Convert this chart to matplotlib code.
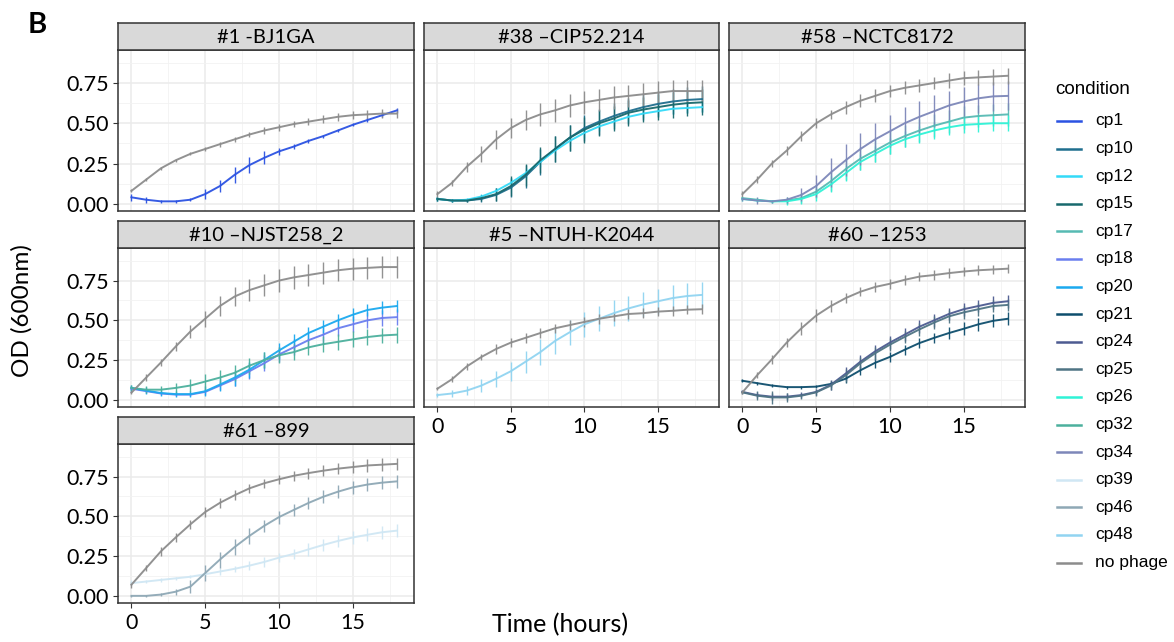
import matplotlib
matplotlib.use("Agg")
import matplotlib.pyplot as plt
from matplotlib.lines import Line2D

# time axis (hours)
hours = list(range(19))

# legend levels and colours
conditions = ["cp1", "cp10", "cp12", "cp15", "cp17", "cp18", "cp20", "cp21", "cp24",
              "cp25", "cp26", "cp32", "cp34", "cp39", "cp46", "cp48", "no phage"]
colors = ["#2B52E2", "#1F6E8E", "#33DAF8", "#18696D", "#56BAB3", "#6A7EEF", "#1BA9EF",
          "#0E4E6D", "#4D5B91", "#4F7484", "#2FF3D6", "#4CB09D", "#7D87B9", "#D0E7F4",
          "#8EA8B5", "#91D4F1", "#8C8C8C"]

# panel #1 -BJ1GA
bj1ga_nophage = [0.08, 0.15, 0.22, 0.27, 0.31, 0.34, 0.37, 0.40, 0.43, 0.455, 0.475, 0.495, 0.51, 0.525, 0.54, 0.55, 0.555, 0.56, 0.56]
bj1ga_nophage_err = [0.01, 0.01, 0.01, 0.01, 0.01, 0.01, 0.015, 0.015, 0.015, 0.02, 0.02, 0.02, 0.02, 0.025, 0.025, 0.025, 0.03, 0.03, 0.03]
bj1ga_cp1 = [0.04, 0.025, 0.015, 0.015, 0.025, 0.06, 0.11, 0.18, 0.24, 0.285, 0.325, 0.355, 0.39, 0.42, 0.455, 0.49, 0.52, 0.55, 0.58]
bj1ga_cp1_err = [0.02, 0.02, 0.01, 0.01, 0.01, 0.03, 0.04, 0.05, 0.05, 0.04, 0.02, 0.015, 0.01, 0.01, 0.01, 0.01, 0.01, 0.01, 0.015]

# panel #38 -CIP52.214
cip_nophage = [0.06, 0.13, 0.23, 0.31, 0.40, 0.47, 0.52, 0.555, 0.58, 0.61, 0.63, 0.645, 0.66, 0.67, 0.68, 0.69, 0.70, 0.70, 0.70]
cip_nophage_err = [0.02, 0.02, 0.03, 0.05, 0.06, 0.06, 0.06, 0.07, 0.07, 0.07, 0.07, 0.07, 0.07, 0.07, 0.07, 0.07, 0.07, 0.07, 0.07]
cip_cp10 = [0.03, 0.02, 0.02, 0.03, 0.055, 0.10, 0.17, 0.26, 0.34, 0.41, 0.47, 0.51, 0.545, 0.575, 0.60, 0.62, 0.635, 0.645, 0.65]
cip_cp10_err = [0.01, 0.01, 0.01, 0.02, 0.04, 0.06, 0.07, 0.08, 0.08, 0.08, 0.08, 0.08, 0.08, 0.08, 0.08, 0.08, 0.08, 0.08, 0.08]
cip_cp12 = [0.03, 0.02, 0.025, 0.045, 0.08, 0.13, 0.19, 0.26, 0.33, 0.39, 0.44, 0.48, 0.51, 0.54, 0.56, 0.575, 0.59, 0.595, 0.60]
cip_cp12_err = [0.01, 0.01, 0.01, 0.015, 0.02, 0.03, 0.03, 0.03, 0.03, 0.03, 0.03, 0.03, 0.03, 0.03, 0.03, 0.03, 0.03, 0.03, 0.03]
cip_cp15 = [0.03, 0.02, 0.02, 0.035, 0.06, 0.11, 0.18, 0.27, 0.34, 0.41, 0.46, 0.50, 0.53, 0.565, 0.585, 0.60, 0.615, 0.625, 0.63]
cip_cp15_err = [0.01, 0.01, 0.01, 0.02, 0.04, 0.06, 0.07, 0.08, 0.08, 0.08, 0.08, 0.08, 0.08, 0.08, 0.08, 0.08, 0.08, 0.08, 0.08]

# panel #58 -NCTC8172
nctc_nophage = [0.06, 0.15, 0.25, 0.33, 0.42, 0.50, 0.555, 0.60, 0.64, 0.67, 0.70, 0.72, 0.735, 0.75, 0.765, 0.78, 0.785, 0.79, 0.795]
nctc_nophage_err = [0.02, 0.02, 0.02, 0.03, 0.03, 0.03, 0.03, 0.04, 0.04, 0.04, 0.04, 0.04, 0.04, 0.04, 0.045, 0.045, 0.045, 0.05, 0.05]
nctc_cp17 = [0.035, 0.025, 0.015, 0.02, 0.035, 0.075, 0.14, 0.215, 0.28, 0.33, 0.38, 0.42, 0.455, 0.485, 0.51, 0.535, 0.545, 0.55, 0.555]
nctc_cp17_err = [0.01, 0.01, 0.01, 0.02, 0.03, 0.04, 0.06, 0.07, 0.07, 0.07, 0.07, 0.07, 0.07, 0.07, 0.07, 0.07, 0.07, 0.07, 0.07]
nctc_cp26 = [0.03, 0.02, 0.015, 0.015, 0.03, 0.06, 0.12, 0.19, 0.26, 0.31, 0.36, 0.40, 0.43, 0.455, 0.475, 0.49, 0.495, 0.50, 0.50]
nctc_cp26_err = [0.01, 0.01, 0.01, 0.02, 0.03, 0.04, 0.05, 0.05, 0.05, 0.05, 0.05, 0.05, 0.05, 0.05, 0.05, 0.05, 0.05, 0.05, 0.05]
nctc_cp34 = [0.03, 0.02, 0.015, 0.025, 0.055, 0.11, 0.195, 0.27, 0.34, 0.40, 0.45, 0.50, 0.54, 0.575, 0.61, 0.635, 0.655, 0.667, 0.67]
nctc_cp34_err = [0.01, 0.02, 0.01, 0.02, 0.04, 0.07, 0.09, 0.10, 0.10, 0.10, 0.10, 0.10, 0.10, 0.10, 0.09, 0.09, 0.09, 0.09, 0.09]

# panel #10 -NJST258_2
njst_nophage = [0.045, 0.14, 0.235, 0.335, 0.43, 0.51, 0.59, 0.65, 0.69, 0.72, 0.75, 0.77, 0.785, 0.80, 0.815, 0.825, 0.83, 0.835, 0.835]
njst_nophage_err = [0.01, 0.02, 0.02, 0.03, 0.04, 0.05, 0.06, 0.06, 0.07, 0.07, 0.07, 0.07, 0.07, 0.07, 0.07, 0.07, 0.07, 0.07, 0.07]
njst_cp18 = [0.07, 0.055, 0.04, 0.033, 0.033, 0.05, 0.09, 0.13, 0.18, 0.23, 0.285, 0.33, 0.375, 0.41, 0.45, 0.475, 0.50, 0.515, 0.52]
njst_cp18_err = [0.02, 0.01, 0.01, 0.01, 0.01, 0.02, 0.03, 0.04, 0.05, 0.05, 0.05, 0.05, 0.05, 0.05, 0.05, 0.05, 0.05, 0.05, 0.05]
njst_cp20 = [0.075, 0.058, 0.043, 0.036, 0.036, 0.054, 0.096, 0.14, 0.19, 0.25, 0.31, 0.365, 0.42, 0.46, 0.50, 0.535, 0.565, 0.58, 0.59]
njst_cp20_err = [0.02, 0.02, 0.02, 0.02, 0.02, 0.03, 0.04, 0.05, 0.05, 0.05, 0.05, 0.05, 0.04, 0.04, 0.04, 0.04, 0.04, 0.04, 0.04]
njst_cp32 = [0.075, 0.064, 0.064, 0.075, 0.09, 0.115, 0.14, 0.17, 0.215, 0.25, 0.28, 0.30, 0.33, 0.35, 0.365, 0.38, 0.395, 0.405, 0.41]
njst_cp32_err = [0.02, 0.02, 0.02, 0.03, 0.04, 0.05, 0.05, 0.05, 0.05, 0.05, 0.05, 0.05, 0.05, 0.05, 0.05, 0.05, 0.05, 0.05, 0.05]

# panel #5 -NTUH-K2044
ntuh_nophage = [0.07, 0.13, 0.21, 0.27, 0.32, 0.36, 0.39, 0.42, 0.45, 0.47, 0.49, 0.51, 0.525, 0.54, 0.545, 0.555, 0.56, 0.567, 0.57]
ntuh_nophage_err = [0.01, 0.02, 0.02, 0.02, 0.03, 0.03, 0.03, 0.03, 0.03, 0.03, 0.03, 0.03, 0.03, 0.03, 0.03, 0.03, 0.03, 0.03, 0.03]
ntuh_cp48 = [0.03, 0.04, 0.058, 0.09, 0.133, 0.18, 0.24, 0.30, 0.37, 0.425, 0.475, 0.51, 0.545, 0.575, 0.60, 0.62, 0.64, 0.653, 0.66]
ntuh_cp48_err = [0.01, 0.02, 0.03, 0.04, 0.05, 0.06, 0.07, 0.08, 0.08, 0.08, 0.08, 0.08, 0.08, 0.08, 0.08, 0.08, 0.08, 0.08, 0.08]

# panel #60 -1253
s1253_nophage = [0.047, 0.155, 0.255, 0.36, 0.45, 0.53, 0.59, 0.64, 0.68, 0.71, 0.73, 0.755, 0.775, 0.785, 0.797, 0.807, 0.815, 0.82, 0.825]
s1253_nophage_err = [0.01, 0.02, 0.03, 0.03, 0.04, 0.04, 0.04, 0.03, 0.03, 0.03, 0.03, 0.03, 0.03, 0.03, 0.03, 0.03, 0.03, 0.03, 0.03]
s1253_cp21 = [0.12, 0.105, 0.09, 0.08, 0.08, 0.083, 0.10, 0.133, 0.186, 0.233, 0.27, 0.315, 0.357, 0.39, 0.42, 0.447, 0.475, 0.497, 0.51]
s1253_cp21_err = [0.01, 0.01, 0.01, 0.01, 0.01, 0.01, 0.02, 0.03, 0.03, 0.03, 0.03, 0.03, 0.03, 0.03, 0.04, 0.04, 0.04, 0.04, 0.04]
s1253_cp24 = [0.05, 0.03, 0.02, 0.02, 0.03, 0.05, 0.095, 0.165, 0.24, 0.305, 0.36, 0.41, 0.46, 0.50, 0.54, 0.57, 0.59, 0.61, 0.62]
s1253_cp24_err = [0.01, 0.02, 0.02, 0.02, 0.02, 0.02, 0.03, 0.04, 0.04, 0.04, 0.04, 0.04, 0.04, 0.04, 0.04, 0.04, 0.04, 0.04, 0.04]
s1253_cp25 = [0.047, 0.026, 0.015, 0.015, 0.026, 0.047, 0.09, 0.154, 0.23, 0.293, 0.347, 0.396, 0.443, 0.486, 0.525, 0.55, 0.57, 0.59, 0.597]
s1253_cp25_err = [0.01, 0.03, 0.04, 0.03, 0.02, 0.02, 0.03, 0.04, 0.04, 0.04, 0.04, 0.04, 0.04, 0.04, 0.04, 0.04, 0.04, 0.04, 0.04]

# panel #61 -899
s899_nophage = [0.07, 0.175, 0.28, 0.367, 0.45, 0.527, 0.585, 0.633, 0.676, 0.708, 0.733, 0.755, 0.772, 0.787, 0.80, 0.81, 0.82, 0.825, 0.83]
s899_nophage_err = [0.02, 0.02, 0.03, 0.03, 0.03, 0.03, 0.03, 0.03, 0.03, 0.03, 0.03, 0.03, 0.035, 0.035, 0.035, 0.04, 0.04, 0.04, 0.04]
s899_cp39 = [0.08, 0.09, 0.10, 0.11, 0.12, 0.136, 0.153, 0.17, 0.19, 0.213, 0.24, 0.264, 0.292, 0.32, 0.345, 0.367, 0.384, 0.40, 0.41]
s899_cp39_err = [0.02, 0.01, 0.01, 0.01, 0.01, 0.01, 0.02, 0.02, 0.03, 0.03, 0.03, 0.03, 0.04, 0.04, 0.04, 0.04, 0.04, 0.04, 0.04]
s899_cp46 = [0.0, 0.0, 0.008, 0.026, 0.058, 0.143, 0.228, 0.307, 0.377, 0.44, 0.495, 0.54, 0.584, 0.623, 0.655, 0.682, 0.70, 0.712, 0.72]
s899_cp46_err = [0.005, 0.005, 0.01, 0.02, 0.04, 0.05, 0.05, 0.05, 0.05, 0.04, 0.04, 0.04, 0.04, 0.04, 0.04, 0.04, 0.04, 0.04, 0.04]

panel_titles = ["#1 -BJ1GA", "#38 \u2013CIP52.214", "#58 \u2013NCTC8172",
                "#10 \u2013NJST258_2", "#5 \u2013NTUH-K2044", "#60 \u20131253", "#61 \u2013899"]
panel_series = [
    [("cp1", bj1ga_cp1, bj1ga_cp1_err), ("no phage", bj1ga_nophage, bj1ga_nophage_err)],
    [("cp10", cip_cp10, cip_cp10_err), ("cp12", cip_cp12, cip_cp12_err), ("cp15", cip_cp15, cip_cp15_err),
     ("no phage", cip_nophage, cip_nophage_err)],
    [("cp17", nctc_cp17, nctc_cp17_err), ("cp26", nctc_cp26, nctc_cp26_err), ("cp34", nctc_cp34, nctc_cp34_err),
     ("no phage", nctc_nophage, nctc_nophage_err)],
    [("cp18", njst_cp18, njst_cp18_err), ("cp20", njst_cp20, njst_cp20_err), ("cp32", njst_cp32, njst_cp32_err),
     ("no phage", njst_nophage, njst_nophage_err)],
    [("cp48", ntuh_cp48, ntuh_cp48_err), ("no phage", ntuh_nophage, ntuh_nophage_err)],
    [("cp21", s1253_cp21, s1253_cp21_err), ("cp24", s1253_cp24, s1253_cp24_err), ("cp25", s1253_cp25, s1253_cp25_err),
     ("no phage", s1253_nophage, s1253_nophage_err)],
    [("cp39", s899_cp39, s899_cp39_err), ("cp46", s899_cp46, s899_cp46_err), ("no phage", s899_nophage, s899_nophage_err)],
]

W, H = 1174, 642
col_px = [(118, 414), (424, 719), (729, 1025)]
row_px = [(50, 211), (248, 407), (444, 603)]
strip_px = 27
font = "Lato"
dark = "#333333"


def rect(x0, y0, x1, y1):
    return [x0 / W, 1 - y1 / H, (x1 - x0) / W, (y1 - y0) / H]


color_of = dict(zip(conditions, colors))
fig = plt.figure(figsize=(W / 100, H / 100), dpi=100)

for i, (title, series) in enumerate(zip(panel_titles, panel_series)):
    r, c = divmod(i, 3)
    x0, x1 = col_px[c]
    y0, y1 = row_px[r]
    ax = fig.add_axes(rect(x0, y0, x1, y1))
    for name, vals, err in series:
        ax.errorbar(hours, vals, yerr=err, color=color_of[name], lw=1.4,
                    elinewidth=1.0, capsize=0, alpha=0.95)
    ax.set_xlim(-0.91, 19.16)
    ax.set_ylim(-0.045, 0.955)
    ax.set_xticks([0, 5, 10, 15])
    ax.set_xticks([2.5, 7.5, 12.5, 17.5], minor=True)
    ax.set_yticks([0, 0.25, 0.5, 0.75])
    ax.set_yticks([0.125, 0.375, 0.625, 0.875], minor=True)
    ax.set_yticklabels(["0.00", "0.25", "0.50", "0.75"])
    ax.grid(which="major", color="#EBEBEB", lw=1.1)
    ax.grid(which="minor", color="#F2F2F2", lw=0.6)
    ax.set_axisbelow(True)
    for s in ax.spines.values():
        s.set_color(dark)
        s.set_linewidth(1.1)
    show_x = (r == 2) or (r == 1 and c > 0)
    show_y = c == 0
    ax.tick_params(which="minor", length=0)
    ax.tick_params(axis="x", which="major", length=3.5 if show_x else 0, color=dark,
                   labelbottom=show_x, labelsize=15.5, pad=4)
    ax.tick_params(axis="y", which="major", length=3.5 if show_y else 0, color=dark,
                   labelleft=show_y, labelsize=15.5, pad=3)
    for lab in ax.get_xticklabels() + ax.get_yticklabels():
        lab.set_fontfamily(font)
        lab.set_color("black")

    sax = fig.add_axes(rect(x0, y0 - strip_px, x1, y0))
    sax.set_facecolor("#D9D9D9")
    sax.set_xticks([])
    sax.set_yticks([])
    for s in sax.spines.values():
        s.set_color(dark)
        s.set_linewidth(1.1)
    sax.text(0.5, 0.45, title, ha="center", va="center", fontsize=14.5,
             fontfamily=font, transform=sax.transAxes)

fig.text(560 / W, 1 - 625 / H, "Time (hours)", ha="center", va="center",
         fontsize=18, fontfamily=font)
fig.text(22 / W, 1 - 311 / H, "OD (600nm)", ha="center", va="center",
         rotation=90, fontsize=17.5, fontfamily=font)
fig.text(37 / W, 1 - 25 / H, "B", ha="center", va="center", fontsize=21,
         fontweight="bold", fontfamily=font)

# legend, drawn by hand to match the ggplot key spacing
fig.text(1055 / W, 1 - 90 / H, "condition", ha="left", va="center",
         fontsize=13.5, fontfamily="Liberation Sans")
for k, (name, col) in enumerate(zip(conditions, colors)):
    ypos = 1 - (121 + 27.6 * k) / H
    fig.add_artist(Line2D([1057 / W, 1081 / W], [ypos, ypos], color=col, lw=1.8,
                          transform=fig.transFigure))
    fig.text(1095 / W, ypos, name, ha="left", va="center", fontsize=12.5,
             fontfamily="Liberation Sans")

fig.savefig("out.png", dpi=100)
